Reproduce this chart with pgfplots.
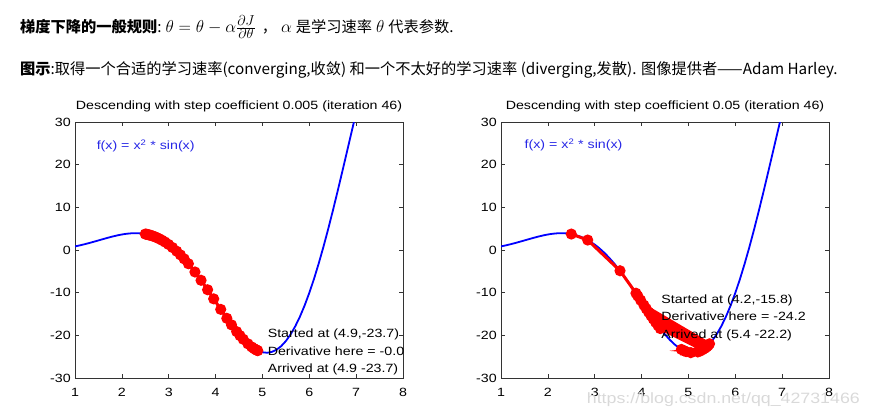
\documentclass[border=0pt]{standalone}
\usepackage{pgfplots}
\pgfplotsset{compat=1.18}
\usepackage{fontspec}
\setmainfont{Liberation Sans}[FakeStretch=1.19]
\newfontfamily\cjk{Noto Sans CJK SC}
\definecolor{mblue}{RGB}{0,0,255}
\definecolor{mred}{RGB}{255,0,0}
\definecolor{lblue}{RGB}{40,40,230}

\pgfplotstableread{
x y
1.0 0.841
1.1 1.078
1.2 1.342
1.3 1.628
1.4 1.931
1.5 2.244
1.6 2.559
1.7 2.866
1.8 3.155
1.9 3.416
2.0 3.637
2.1 3.807
2.2 3.913
2.3 3.945
2.4 3.891
2.5 3.740
2.6 3.485
2.7 3.116
2.8 2.626
2.9 2.012
3.0 1.270
3.1 0.400
3.2 -0.598
3.3 -1.718
3.4 -2.954
3.5 -4.297
3.6 -5.735
3.7 -7.253
3.8 -8.835
3.9 -10.461
4.0 -12.109
4.1 -13.755
4.2 -15.375
4.3 -16.940
4.4 -18.423
4.5 -19.795
4.6 -21.026
4.7 -22.088
4.8 -22.952
4.9 -23.588
5.0 -23.973
5.1 -24.080
5.2 -23.888
5.3 -23.378
5.4 -22.534
5.5 -21.343
5.6 -19.797
5.7 -17.892
5.8 -15.629
5.9 -13.015
6.0 -10.059
6.1 -6.793
6.2 -3.194
6.3 0.667
6.4 4.774
6.5 9.089
6.6 13.571
6.7 18.174
6.8 22.848
6.9 27.540
7.0 32.192
}\curve

\pgfplotstableread{
x y
2.5 3.740
2.52 3.697
2.544 3.641
2.57 3.573
2.598 3.491
2.63 3.386
2.665 3.258
2.705 3.094
2.75 2.886
2.8 2.626
2.857 2.292
2.92 1.874
2.995 1.310
3.08 0.584
3.17 -0.285
3.25 -1.143
3.33 -2.077
3.42 -3.215
3.56 -5.149
3.69 -7.098
3.83 -9.319
3.96 -11.450
4.11 -13.917
4.24 -16.012
4.34 -17.546
4.45 -19.127
4.52 -20.053
4.59 -20.911
4.69 -21.991
4.77 -22.715
4.82 -23.098
4.86 -23.363
4.88 -23.481
4.9 -23.588
}\trailA

\pgfplotstableread{
x y
2.5 3.740
2.85 2.335
3.54 -4.862
3.88 -10.130
3.92 -10.789
3.98 -11.780
4.05 -12.933
5.45 -21.983
4.10 -13.755
5.42 -22.325
4.15 -14.573
5.40 -22.534
4.20 -15.375
5.38 -22.731
4.25 -16.168
5.35 -22.998
4.30 -16.940
5.42 -22.325
4.35 -17.691
5.38 -22.731
4.40 -18.423
5.30 -23.378
4.85 -23.300
5.25 -23.674
4.95 -23.814
5.35 -22.998
4.90 -23.588
5.20 -23.888
5.05 -24.063
5.40 -22.534
}\trailB

\pgfplotsset{
  mstyle/.style={
    scale only axis, width=328bp, height=256bp,
    xmin=1, xmax=8, ymin=-30, ymax=30,
    xtick={1,2,...,8}, ytick={-30,-20,...,30},
    tick align=inside, major tick length=4bp,
    axis line style={black!80, line width=0.6bp},
    every tick/.style={black!80, line width=0.6bp},
    ticklabel style={font=\fontsize{12}{14}\selectfont},
    xticklabel style={anchor=base, yshift=-18bp},
    yticklabel style={anchor=east, inner sep=0pt, xshift=-4bp},
    /pgf/number format/assume math mode=true,
    title style={font=\fontsize{12}{14}\selectfont, at={(0.5,1)}, anchor=base, yshift=6.5bp},
    clip=true,
  },
}
\tikzset{antext/.style={anchor=west, align=left, inner sep=0pt, font=\fontsize{12}{17.3}\selectfont}}
\newcommand\mth[1]{{\fontsize{19}{21}\selectfont$#1$}}

\begin{document}
\begin{tikzpicture}[x=1bp,y=1bp]
\path[use as bounding box] (0,0) rectangle (870,418);

\node[anchor=west, inner sep=0pt, font=\cjk\fontsize{15.3}{17}\selectfont] at (20,391)
  {{\bfseries 梯度下降的一般规则}:\hspace{4bp}\mth{\theta=\theta-\alpha\frac{\partial J}{\partial\theta}}\hspace{6bp}，\hspace{4bp}\mth{\alpha}\hspace{4bp}是学习速率\hspace{4bp}\mth{\theta}\hspace{4bp}代表参数.};
\node[anchor=west, inner sep=0pt, font=\cjk\fontsize{15.3}{17}\selectfont] at (20,348)
  {{\bfseries 图示}:取得一个合适的学习速率(converging,收敛) 和一个不太好的学习速率 (diverging,发散). 图像提供者——Adam Harley.};

\begin{axis}[mstyle, at={(75bp,40bp)}, anchor=south west,
  title={Descending with step coefficient 0.005 (iteration 46)}]
\addplot[mblue, line width=1.8bp] table[x=x,y=y] {\curve};
\addplot[mred, line width=3bp, mark=*, mark size=4bp, mark options={solid, fill=mred, draw=mred}] table[x=x,y=y] {\trailA};
\node[anchor=west, inner sep=0pt, text=lblue, font=\fontsize{12}{14}\selectfont] at (axis cs:1.46,24.45) {f(x) = x\textsuperscript{2} * sin(x)};
\node[antext] at (axis cs:5.11,-23.9) {Started at (4.9,-23.7)\\Derivative here = -0.0\\Arrived at (4.9 -23.7)};
\end{axis}

\begin{axis}[mstyle, at={(501bp,40bp)}, anchor=south west,
  title={Descending with step coefficient 0.05 (iteration 46)}]
\addplot[mblue, line width=1.8bp] table[x=x,y=y] {\curve};
\addplot[mred, line width=3bp, mark=*, mark size=4bp, mark options={solid, fill=mred, draw=mred}] table[x=x,y=y] {\trailB};
\node[anchor=west, inner sep=0pt, text=lblue, font=\fontsize{12}{14}\selectfont] at (axis cs:1.5,24.6) {f(x) = x\textsuperscript{2} * sin(x)};
\node[antext] at (axis cs:4.42,-15.9) {Started at (4.2,-15.8)\\Derivative here = -24.2\\Arrived at (5.4 -22.2)};
\end{axis}

\node[anchor=east, inner sep=0pt, text=black!15, font=\fontsize{15}{17}\selectfont] at (860,18) {https://blog.csdn.net/qq\_42731466};
\end{tikzpicture}
\end{document}
